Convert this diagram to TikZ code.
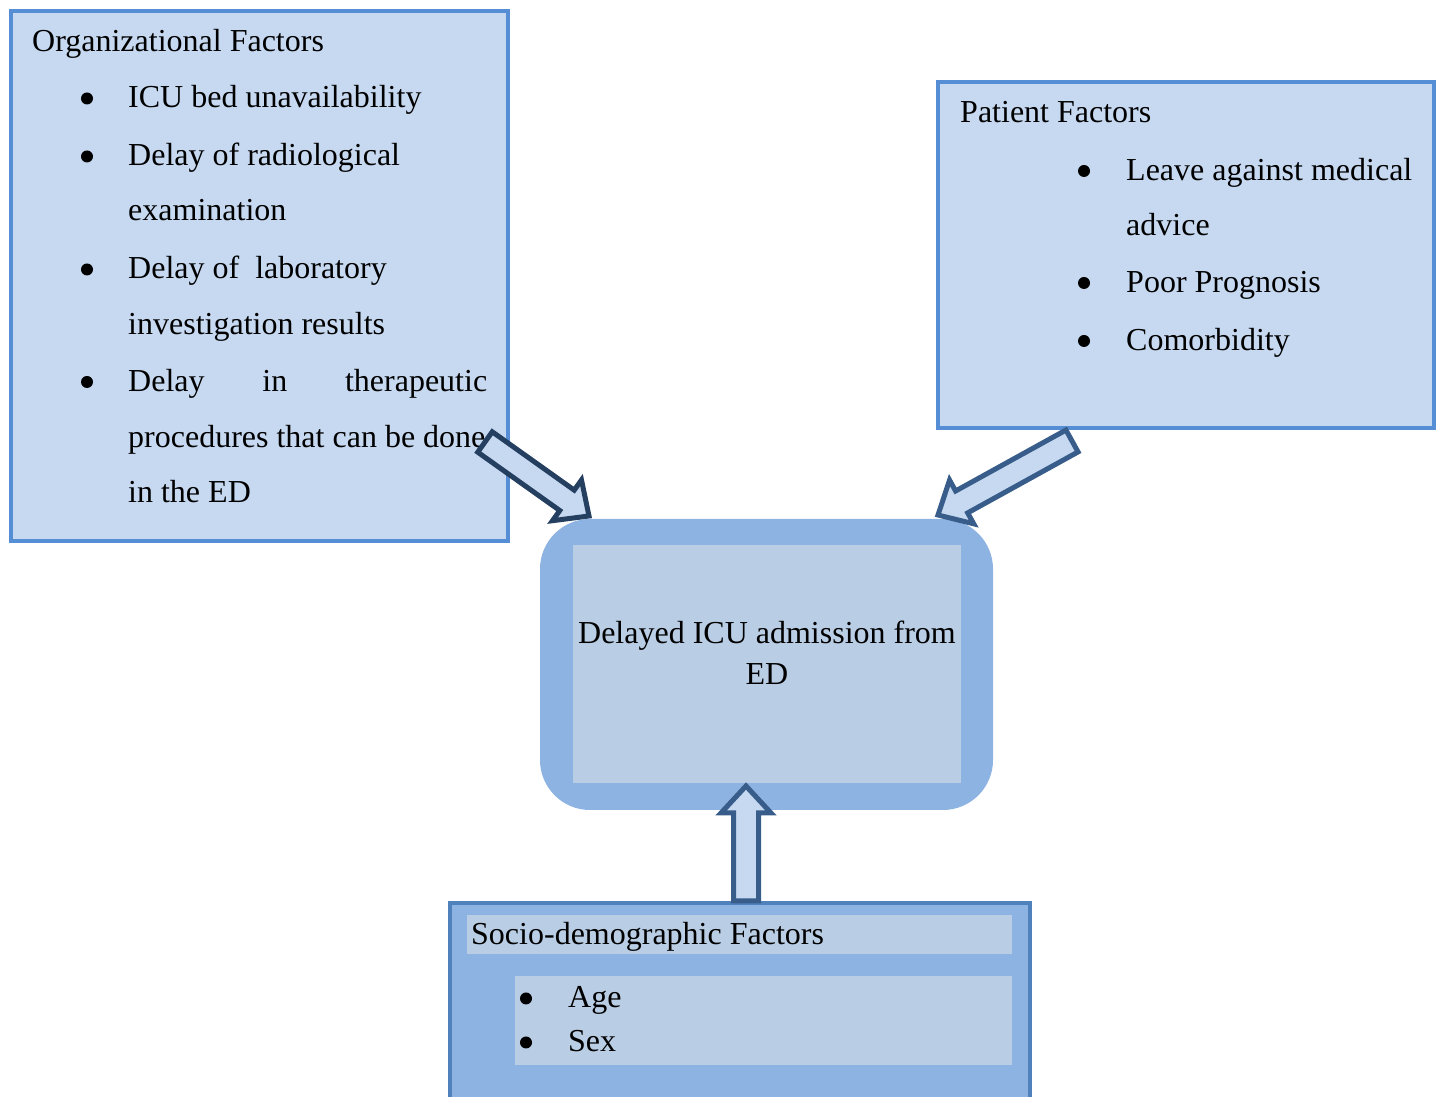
\documentclass[tikz,border=0pt]{standalone}
\usepackage{fontspec}
\setmainfont{Liberation Serif}
\usetikzlibrary{calc}
\definecolor{lightfill}{HTML}{C6D9F1}
\definecolor{boxline}{HTML}{558ED5}
\definecolor{midblue}{HTML}{8DB3E2}
\definecolor{paleblue}{HTML}{B9CDE5}
\definecolor{botline}{HTML}{4F81BD}
\definecolor{darkarrow}{HTML}{243F60}
\definecolor{arrowline}{HTML}{385D8A}
\newcommand\blockarr[3]{%
 \draw[#1] ($(#2)!12.5pt!90:(#3)$) -- ($(#3)!27pt!(#2)!12.5pt!-90:(#2)$) -- ($(#3)!27pt!(#2)!25pt!-90:(#2)$) -- (#3) -- ($(#3)!27pt!(#2)!25pt!90:(#2)$) -- ($(#3)!27pt!(#2)!12.5pt!90:(#2)$) -- ($(#2)!12.5pt!-90:(#3)$) -- cycle;}
\tikzset{
  factorbox/.style={draw=boxline, line width=4pt, fill=lightfill, inner sep=0pt, rectangle},
  outerbox/.style={fill=midblue, rounded corners=50pt, inner sep=0pt, rectangle},
  palebox/.style={fill=paleblue, inner sep=0pt, rectangle},
  botbox/.style={draw=botline, line width=4pt, fill=midblue, inner sep=0pt, rectangle},
  txt/.style={inner sep=0pt, anchor=base west, font=\fontsize{32}{38}\selectfont},
  ctxt/.style={inner sep=0pt, anchor=base, font=\fontsize{32}{38}\selectfont},
  bul/.style={circle, fill=black, inner sep=0pt, minimum size=12pt, yshift=9.5pt},
  blockdark/.style={draw=darkarrow, fill=lightfill, line width=5pt, line join=miter},
  blockmid/.style={draw=arrowline, fill=lightfill, line width=5pt, line join=miter},
}
\begin{document}
\begin{tikzpicture}[x=1pt,y=1pt]
\useasboundingbox (0,0) rectangle (1443,1097);
\clip (0,0) rectangle (1443,1097);
% boxes
\node[factorbox, minimum width=497pt, minimum height=530pt] (org) at (259.5,821) {};
\node[factorbox, minimum width=496pt, minimum height=346pt] (pat) at (1186,842) {};
\node[outerbox, minimum width=453pt, minimum height=291pt] (cen) at (766.5,432.5) {};
\node[palebox, minimum width=388pt, minimum height=238pt] (ceninner) at (767,433) {};
\node[botbox, minimum width=580pt, minimum height=197pt] (soc) at (740,95.5) {};
\node[palebox, minimum width=545pt, minimum height=39pt] (soctitle) at (739.5,162.5) {};
\node[palebox, minimum width=497pt, minimum height=89pt] (soclist) at (763.5,76.5) {};
% organizational text
\node[txt] (o0) at (32,1045.5) {Organizational Factors};
\node[bul] (ob1) at (87,989) {};
\node[txt] (o1) at (128,989) {ICU bed unavailability};
\node[bul] (ob2) at (87,931) {};
\node[txt] (o2) at (128,931) {Delay of radiological};
\node[txt] (o2b) at (128,876) {examination};
\node[bul] (ob3) at (87,818) {};
\node[txt] (o3) at (128,818) {Delay of~ laboratory};
\node[txt] (o3b) at (128,762.5) {investigation results};
\node[bul] (ob4) at (87,705.5) {};
\node[txt] (o4) at (128,705.5) {\makebox[359pt][s]{Delay\hfill in\hfill therapeutic}};
\node[txt] (o4b) at (128,649.5) {procedures that can be done};
\node[txt] (o4c) at (128,594.5) {in the ED};
% patient text
\node[txt] (p0) at (960,974.5) {Patient Factors};
\node[bul] (pb1) at (1084,916.5) {};
\node[txt] (p1) at (1126,916.5) {Leave against medical};
\node[txt] (p1b) at (1126,861.5) {advice};
\node[bul] (pb2) at (1084,804.5) {};
\node[txt] (p2) at (1126,804.5) {Poor Prognosis};
\node[bul] (pb3) at (1084,746.5) {};
\node[txt] (p3) at (1126,746.5) {Comorbidity};
% center text
\node[ctxt] (c1) at (767,453.5) {Delayed ICU admission from};
\node[ctxt] (c2) at (767,412.5) {ED};
% socio text
\node[txt] (s0) at (471,152.5) {Socio-demographic Factors};
\node[bul] (sb1) at (526,89) {};
\node[txt] (s1) at (568,89) {Age};
\node[bul] (sb2) at (526,45) {};
\node[txt] (s2) at (568,45) {Sex};
% arrows
\coordinate (lt) at (485,655);
\coordinate (lh) at (589,581);
\coordinate (rt) at (1072,656);
\coordinate (rh) at (938,582);
\coordinate (bt) at (746,196);
\coordinate (bh) at (746,311);
\blockarr{blockdark}{lt}{lh}
\blockarr{blockmid}{rt}{rh}
\blockarr{blockmid}{bt}{bh}
\end{tikzpicture}
\end{document}
